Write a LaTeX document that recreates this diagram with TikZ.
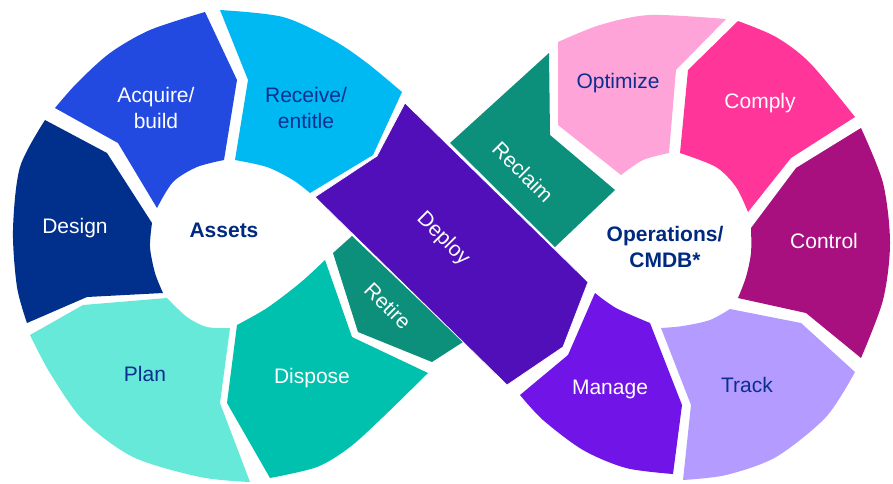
\documentclass[tikz,border=0pt]{standalone}
\usepackage{fontspec}
\setmainfont{Liberation Sans}
\begin{document}
\begin{tikzpicture}[x=1pt,y=-1pt,
  lbl/.style={font=\fontsize{21}{26.5}\selectfont, align=center, inner sep=0pt},
  lw/.style={lbl, text=white},
  ld/.style={lbl, text=navytxt},
  lb/.style={lbl, font=\fontsize{21}{25.5}\selectfont\bfseries, text=navybold}]
\definecolor{cAcq}{HTML}{2249E0}
\definecolor{cRec}{HTML}{00B9F3}
\definecolor{cDes}{HTML}{00308C}
\definecolor{cPlan}{HTML}{66E9D8}
\definecolor{cDis}{HTML}{00C0AE}
\definecolor{cRet}{HTML}{0C8F7B}
\definecolor{cDep}{HTML}{510FBA}
\definecolor{cOpt}{HTML}{FFA4D8}
\definecolor{cCom}{HTML}{FF3599}
\definecolor{cCon}{HTML}{A8107F}
\definecolor{cTra}{HTML}{B49BFF}
\definecolor{cMan}{HTML}{7014E8}
\definecolor{navytxt}{HTML}{0B2F8F}
\definecolor{navybold}{HTML}{002A80}
\useasboundingbox[fill=white] (0,0) rectangle (893,483);
% left loop
\fill[cAcq] (55,108) -- plot[smooth] coordinates {(55,108) (77,83) (110,53) (150,30) (205,12)} -- (237,80) -- (224,160)
  -- plot[smooth] coordinates {(224,160) (197,167) (173,182) (157,208)} -- (118,143) -- cycle;
\fill[cRec] (220,10) -- plot[smooth] coordinates {(220,10) (283,17) (333,40) (367,63) (402,92)} -- (373,155) -- (310,193)
  -- plot[smooth] coordinates {(310,193) (293,180) (267,167) (235,160)} -- (248,80) -- cycle;
\fill[cDes] (45,120) -- (107,153) -- (152,223)
  -- plot[smooth] coordinates {(152,223) (150,247) (155,273) (163,293)} -- (87,297) -- (27,323)
  -- plot[smooth] coordinates {(27,323) (17,287) (13,230) (20,167) (45,120)} -- cycle;
\fill[cPlan] (30,335) -- (83,305) -- (167,298)
  -- plot[smooth] coordinates {(167,298) (187,317) (207,327) (230,328)} -- (220,403) -- (250,482)
  -- plot[smooth] coordinates {(250,482) (200,477) (133,457) (83,420) (50,373) (30,335)} -- cycle;
\fill[cDis] (237,325) -- plot[smooth] coordinates {(237,325) (267,308) (300,283) (325,260)} -- (352,337) -- (428,373)
  -- plot[smooth] coordinates {(428,373) (383,417) (350,447) (317,467) (270,478)} -- (227,403) -- cycle;
% centre band
\fill[cRet] (333,253) -- (352,236) -- (463,342) -- (432,362) -- (358,332) -- cycle;
\fill[cRet] (450,143) -- (549,53) -- (550,135) -- (615,190) -- (555,247) -- cycle;
\filldraw[fill=cDep, draw=white, line width=0.7pt] (315,197) -- (377,156) -- (405,103) -- (588,282) -- (563,347) -- (507,385) -- cycle;
% right loop
\fill[cOpt] (558,42) -- plot[smooth] coordinates {(558,42) (600,25) (650,15) (726,19)} -- (676,70) -- (669,153)
  -- plot[smooth] coordinates {(669,153) (643,160) (621,175)} -- (558,125) -- cycle;
\fill[cCom] (738,21) -- plot[smooth] coordinates {(738,21) (776,37) (810,63) (855,117)} -- (791,158) -- (748,212)
  -- plot[smooth] coordinates {(748,212) (736,187) (716,167) (680,153)} -- (688,70) -- cycle;
\fill[cCon] (861,128) -- plot[smooth] coordinates {(861,128) (883,183) (890,243) (883,300) (861,358)} -- (806,313) -- (738,298)
  -- plot[smooth] coordinates {(738,298) (746,277) (751,253) (751,228)} -- (796,168) -- cycle;
\fill[cTra] (730,309) -- (801,323) -- (855,372)
  -- plot[smooth] coordinates {(855,372) (826,417) (776,457) (726,475) (683,480)} -- (691,405) -- (661,328)
  -- plot[smooth] coordinates {(661,328) (683,326) (710,320) (730,309)} -- cycle;
\fill[cMan] (595,293) -- plot[smooth] coordinates {(595,293) (616,308) (650,323)} -- (682,405) -- (673,474)
  -- plot[smooth] coordinates {(673,474) (626,468) (583,450) (543,420) (520,395)} -- (568,355) -- cycle;
% labels
\node[lw] (acq) at (156,108) {Acquire/\\build};
\node[ld] (rec) at (306,108) {Receive/\\entitle};
\node[lw] (des) at (75,228) {Design};
\node[lb] (assets) at (224,230) {Assets};
\node[ld] (plan) at (145,374) {Plan};
\node[lw] (dis) at (312,378) {Dispose};
\node[lw, rotate=-45] (ret) at (388,306) {Retire};
\node[lw, rotate=-45] (dep) at (443,239) {Deploy};
\node[lw, rotate=-45] (recl) at (523,172) {Reclaim};
\node[ld] (opt) at (618,83) {Optimize};
\node[lw] (com) at (760,103) {Comply};
\node[lw] (con) at (824,241) {Control};
\node[lb] (ops) at (665,247) {Operations/\\CMDB*};
\node[ld] (tra) at (747,385) {Track};
\node[lw] (man) at (610,389) {Manage};
\end{tikzpicture}
\end{document}
